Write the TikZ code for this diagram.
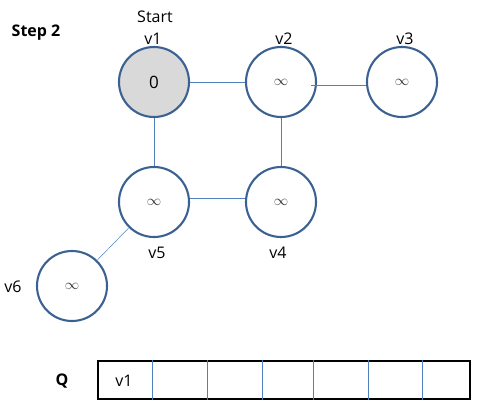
\documentclass[tikz,border=0pt]{standalone}
\usepackage{fontspec}
\setmainfont{Open Sans}
\usetikzlibrary{positioning}

\definecolor{vblue}{HTML}{3B6192}
\definecolor{eblue}{HTML}{4F81BD}
\definecolor{sgray}{HTML}{D9D9D9}

\begin{document}
\begin{tikzpicture}[x=1pt,y=-1pt,
    vert/.style={circle,draw=vblue,line width=2.1pt,minimum size=70pt,inner sep=0pt},
    inf/.style={vert,font=\fontsize{14}{16}\selectfont\color{black!80}},
    edge/.style={eblue,line width=1pt},
    lbl/.style={font=\fontsize{16}{18}\selectfont},
    hdr/.style={font=\fontsize{16}{18}\selectfont\bfseries}]

        \useasboundingbox (0,0) rectangle (493,415);

        %%% header %%%
        \node[hdr] (step) at (36,33) {Step 2};

        %%% vertices %%%
        \node[vert,fill=sgray,font=\fontsize{17}{19}\selectfont] (v1) at (154,82) {0};
        \node[inf] (v2) at (281,82) {$\infty$};
        \node[inf] (v3) at (402,82) {$\infty$};
        \node[inf] (v5) at (154,202) {$\infty$};
        \node[inf] (v4) at (281,202) {$\infty$};
        \node[inf] (v6) at (72,286) {$\infty$};

        %%% labels %%%
        \node[lbl] (start) at (155,17) {Start};
        \node[lbl] (l1) at (153,39) {v1};
        \node[lbl] (l2) at (284,39) {v2};
        \node[lbl] (l3) at (405,39) {v3};
        \node[lbl] (l5) at (157,253) {v5};
        \node[lbl] (l4) at (278,253) {v4};
        \node[lbl] (l6) at (13,287) {v6};

        %%% edges %%%
        \draw[edge] (v1) -- (v2);
        \draw[edge] ([xshift=-6pt,yshift=-3pt]v2.east) -- ([yshift=-3pt]v3.west);
        \draw[edge] (v1) -- (v5);
        \draw[edge] (v2) -- (v4);
        \draw[edge] ([yshift=4pt]v5.east) -- ([yshift=4pt]v4.west);
        \draw[eblue,line width=0.5pt] (v5) -- (v6);

        %%% queue %%%
        \node[hdr] (q) at (62,381) {Q};
        \node[draw,line width=2pt,minimum width=372pt,minimum height=38pt,inner sep=0pt,anchor=north west] (queue) at (97,360) {};
        \foreach \x in {55.5, 110.5, 165.5, 216, 271, 325.5}{
          \draw[edge] ([xshift=\x pt]queue.north west) -- ([xshift=\x pt]queue.south west);
        }
        \node[lbl] (q1) at (124,381) {v1};

\end{tikzpicture}
\end{document}
